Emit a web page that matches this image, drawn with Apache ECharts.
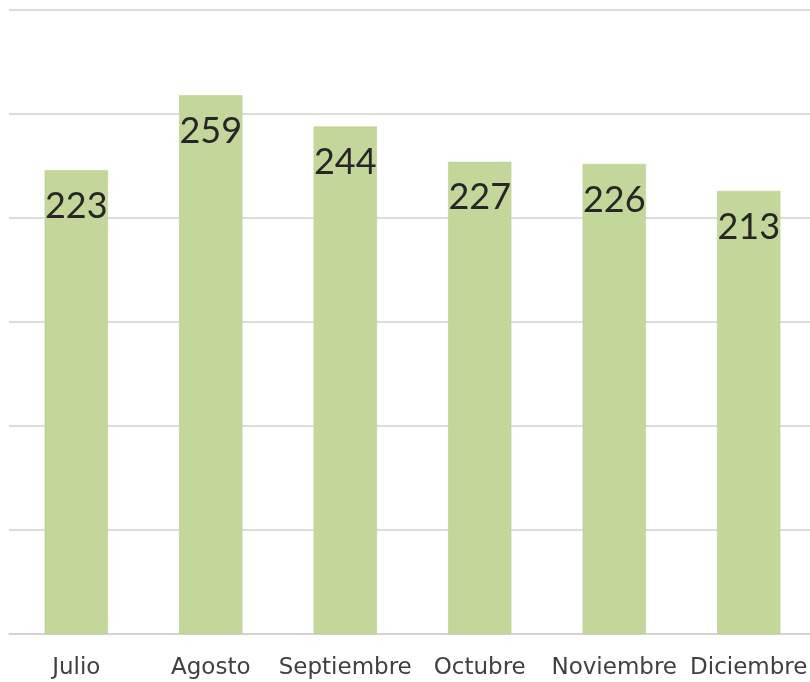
<!DOCTYPE html>
<html><head><meta charset="utf-8">
<script src="https://cdn.jsdelivr.net/npm/echarts@6/dist/echarts.min.js"></script>
<style>html,body{margin:0;padding:0;background:#fff;overflow:hidden}#c{width:816px;height:682px}</style>
</head><body><div id="c"></div>
<script>
const categories = ['Julio','Agosto','Septiembre','Octubre','Noviembre','Diciembre'];
const values = [223, 259, 244, 227, 226, 213];
const chart = echarts.init(document.getElementById('c'));
chart.setOption({
  animation:false,
  grid:{left:9,right:0,top:10,bottom:48},
  xAxis:{type:'category',data:categories,
    axisLine:{lineStyle:{color:'#d0d0d0',width:1.5}},axisTick:{show:false},
    axisLabel:{color:'#404040',fontSize:23,fontFamily:'DejaVu Sans, sans-serif',margin:23,interval:0}},
  yAxis:{type:'value',min:0,max:300,interval:50,
    axisLabel:{show:false},axisLine:{show:false},axisTick:{show:false},
    splitLine:{lineStyle:{color:'#d0d0d0',width:1.5}}},
  series:[{type:'bar',data:values,barWidth:'47%',
    itemStyle:{color:'#c4d79b',borderColor:'#b5c98c',borderWidth:0.5},
    label:{show:true,position:'insideTop',distance:18,fontSize:36,color:'#262626',fontFamily:'Lato, sans-serif'}}]
});
</script></body></html>
